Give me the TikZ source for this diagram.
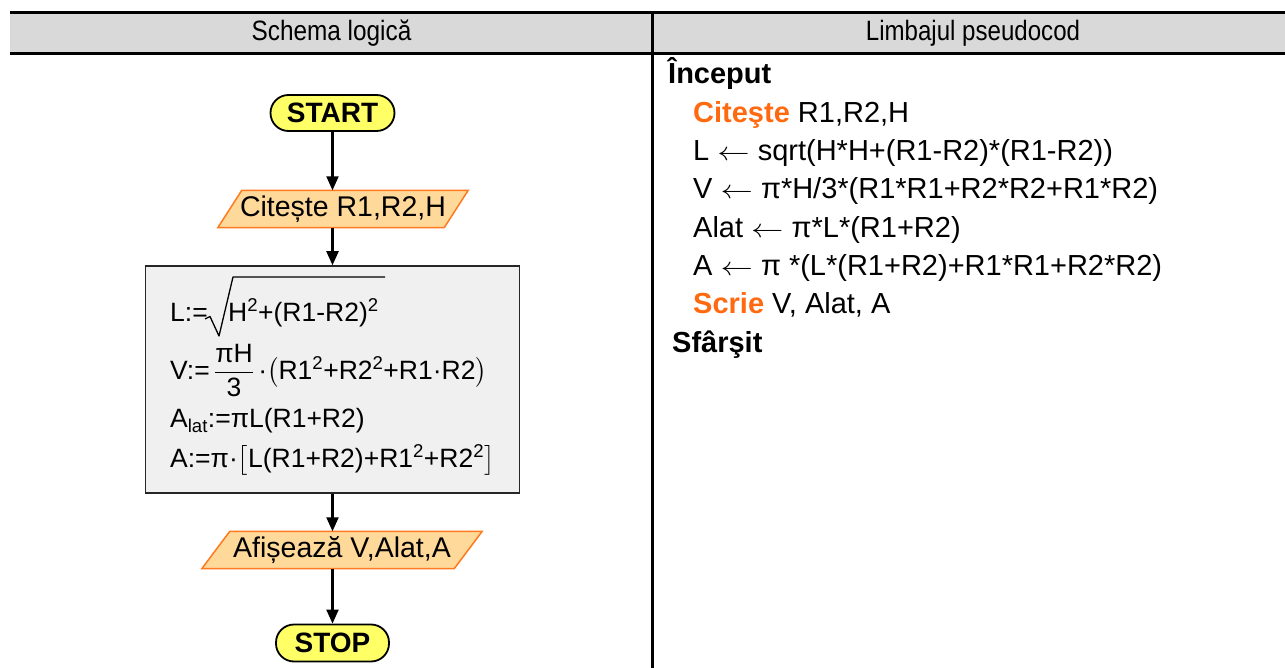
\documentclass[tikz,border=0pt]{standalone}
\usepackage{graphicx}
\usepackage{amsmath}
\usepackage{fontspec}
\setmainfont{Liberation Sans}
\usetikzlibrary{arrows.meta,backgrounds}

\definecolor{headgray}{HTML}{D9D9D9}
\definecolor{termyellow}{HTML}{FFFF66}
\definecolor{iofill}{HTML}{FFD999}
\definecolor{ioedge}{HTML}{FF7A1F}
\definecolor{boxgray}{HTML}{F0F0F0}
\definecolor{keyword}{HTML}{FF6A10}

% long thin assignment arrow of the pseudocode
\newcommand{\larr}{\scalebox{1.3}[1.05]{$\leftarrow$}}

\begin{document}
\begin{tikzpicture}[x=1pt,y=-1pt,
  rule/.style={line width=3pt},
  headtxt/.style={font=\fontsize{28}{32}\selectfont, inner sep=0pt},
  term/.style={draw=black, line width=1.8pt, fill=termyellow, rounded corners=18pt,
    minimum height=36pt, inner sep=0pt, font=\fontsize{28}{32}\selectfont\bfseries},
  iolabel/.style={minimum height=37pt, inner sep=0pt, font=\fontsize{28.5}{32}\selectfont},
  iobox/.style={draw=ioedge, line width=1.5pt, fill=iofill},
  procbox/.style={draw=black!85, line width=1.5pt, fill=boxgray, inner sep=0pt},
  ftxt/.style={anchor=base west, inner sep=0pt, font=\fontsize{26.5}{30}\selectfont},
  code/.style={anchor=base west, inner sep=0pt, font=\fontsize{29}{32}\selectfont},
  flow/.style={line width=2.1pt, -{Triangle[length=14pt,width=12pt]}}]

\useasboundingbox (0,0) rectangle (1285,668);

% table header and column divider
\fill[headgray] (10,13) rectangle (1285,53);
\draw[rule] (10,12.5) -- (1285,12.5);
\draw[rule] (10,53.5) -- (1285,53.5);
\draw[rule] (652.5,11) -- (652.5,668);
\node[headtxt] (hleft) at (331.5,33) {\scalebox{0.87}[1]{Schema logică}};
\node[headtxt] (hright) at (973,33) {\scalebox{0.86}[1]{Limbajul pseudocod}};

% flowchart
\node[term, minimum width=124pt] (start) at (332.5,113) {START};
\node[iolabel, minimum width=226pt] (cit) at (343,209) {Citește R1,R2,H};
\node[procbox, minimum width=374pt, minimum height=227pt] (box) at (332.5,379.5) {};
\node[iolabel, minimum width=252pt] (afis) at (342,550) {Afișează V,Alat,A};
\node[term, minimum width=113pt, minimum height=37pt] (stop) at (332.5,643) {STOP};

\begin{scope}[on background layer]
  \draw[iobox] ([xshift=12pt]cit.north west) -- ([xshift=12pt]cit.north east)
    -- ([xshift=-12pt]cit.south east) -- ([xshift=-12pt]cit.south west) -- cycle;
  \draw[iobox] ([xshift=14pt]afis.north west) -- ([xshift=14pt]afis.north east)
    -- ([xshift=-14pt]afis.south east) -- ([xshift=-14pt]afis.south west) -- cycle;
\end{scope}

\draw[flow] (start.south) -- (start.south |- cit.north);
\draw[flow] (start.south |- cit.south) -- (box.north);
\draw[flow] (box.south) -- (box.south |- afis.north);
\draw[flow] (box.south |- afis.south) -- (stop.north);

% formulas inside the process box
\node[ftxt] (f1) at (170,321) {L:=};
\node[ftxt] (f1in) at (228,321) {H\textsuperscript{2}+(R1-R2)\textsuperscript{2}};
\draw[line width=1.3pt, line join=round] (205,319) -- (210,316.5) -- (219,336) -- (233,277) -- (385,277);
\node[ftxt] (f2) at (170,379) {V:=\,$\dfrac{\mbox{πH}}{\mbox{3}}$\,·$\bigl($R1\textsuperscript{2}+R2\textsuperscript{2}+R1·R2$\bigr)$};
\node[ftxt] (f3) at (170,427.5) {A\textsubscript{lat}:=πL(R1+R2)};
\node[ftxt] (f4) at (170,467) {A:=π·$\smash{\bigl[}$L(R1+R2)+R1\textsuperscript{2}+R2\textsuperscript{2}$\smash{\bigr]}$};

% pseudocode
\node[code] (p1) at (668,84) {\bfseries Început};
\node[code] (p2) at (693,122.3) {{\bfseries\color{keyword}Citeşte} R1,R2,H};
\node[code] (p3) at (693,160.6) {L \larr{} sqrt(H*H+(R1-R2)*(R1-R2))};
\node[code] (p4) at (693,198.9) {V \larr{} π*H/3*(R1*R1+R2*R2+R1*R2)};
\node[code] (p5) at (693,237.2) {Alat \larr{} π*L*(R1+R2)};
\node[code] (p6) at (693,275.5) {A \larr{} π *(L*(R1+R2)+R1*R1+R2*R2)};
\node[code] (p7) at (693,313.8) {{\bfseries\color{keyword}Scrie} V, Alat, A};
\node[code] (p8) at (672,352.1) {\bfseries Sfârşit};

\end{tikzpicture}
\end{document}
